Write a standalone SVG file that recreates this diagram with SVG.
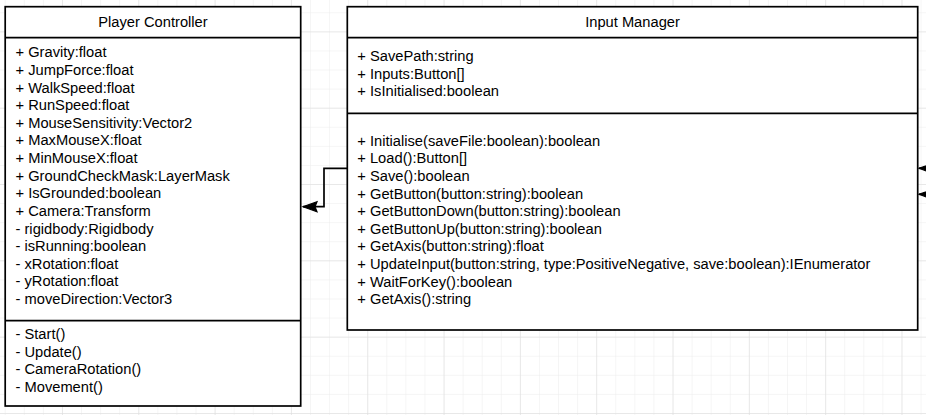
<svg xmlns="http://www.w3.org/2000/svg" width="926" height="415" viewBox="0 0 926 415">
<defs>
<pattern id="gridMinor" patternUnits="userSpaceOnUse" x="4.72" y="12.3" width="19.08" height="19.08">
<path d="M0 0 H19.08 M0 0 V19.08" fill="none" stroke="#ebebeb" stroke-width="1"/>
</pattern>
<pattern id="gridMajor" patternUnits="userSpaceOnUse" x="61.96" y="31.38" width="76.32" height="76.32">
<path d="M0 0 H76.32 M0 0 V76.32" fill="none" stroke="#dcdcdc" stroke-width="1"/>
</pattern>
<marker id="arrow" markerUnits="userSpaceOnUse" viewBox="-2 -7 18 14" markerWidth="18" markerHeight="14" refX="14" refY="0" orient="auto" overflow="visible">
<path d="M14 0 L0 -5 L2 0 L0 5 Z" fill="#000" stroke="#000" stroke-width="1.2" stroke-linejoin="miter"/>
</marker>
</defs>
<style>
.box{fill:#fff;stroke:#000;stroke-width:1.7}
.div{stroke:#000;stroke-width:1.7;fill:none}
.t{font-family:"Liberation Sans",Arial,Helvetica,sans-serif;font-size:14.7px;fill:#000}
.h{text-anchor:middle}
.conn{fill:none;stroke:#000;stroke-width:1.7}
</style>
<rect width="926" height="415" fill="#fff"/>
<rect width="926" height="415" fill="url(#gridMinor)"/>
<rect width="926" height="415" fill="url(#gridMajor)"/>

<g id="player-controller">
<rect class="box" x="5.2" y="6.7" width="295.5" height="399.3"/>
<path class="div" d="M5.2 37.7 H300.7 M5.2 320.7 H300.7"/>
<text class="t h" x="153" y="26.7">Player Controller</text>
<text class="t" x="15.5" y="57.3">+ Gravity:float</text>
<text class="t" x="15.5" y="74.92">+ JumpForce:float</text>
<text class="t" x="15.5" y="92.54">+ WalkSpeed:float</text>
<text class="t" x="15.5" y="110.16">+ RunSpeed:float</text>
<text class="t" x="15.5" y="127.78">+ MouseSensitivity:Vector2</text>
<text class="t" x="15.5" y="145.4">+ MaxMouseX:float</text>
<text class="t" x="15.5" y="163.02">+ MinMouseX:float</text>
<text class="t" x="15.5" y="180.64">+ GroundCheckMask:LayerMask</text>
<text class="t" x="15.5" y="198.26">+ IsGrounded:boolean</text>
<text class="t" x="15.5" y="215.88">+ Camera:Transform</text>
<text class="t" x="15.5" y="233.5">- rigidbody:Rigidbody</text>
<text class="t" x="15.5" y="251.12">- isRunning:boolean</text>
<text class="t" x="15.5" y="268.74">- xRotation:float</text>
<text class="t" x="15.5" y="286.36">- yRotation:float</text>
<text class="t" x="15.5" y="303.98">- moveDirection:Vector3</text>
<text class="t" x="15.5" y="339">- Start()</text>
<text class="t" x="15.5" y="356.62">- Update()</text>
<text class="t" x="15.5" y="374.24">- CameraRotation()</text>
<text class="t" x="15.5" y="391.86">- Movement()</text>
</g>

<g id="input-manager">
<rect class="box" x="347.3" y="6.7" width="570.4" height="323.3"/>
<path class="div" d="M347.3 37.7 H917.7 M347.3 113.3 H917.7"/>
<text class="t h" x="632.5" y="26.7">Input Manager</text>
<text class="t" x="357.3" y="61">+ SavePath:string</text>
<text class="t" x="357.3" y="78.62">+ Inputs:Button[]</text>
<text class="t" x="357.3" y="96.24">+ IsInitialised:boolean</text>
<text class="t" x="357.3" y="145.7">+ Initialise(saveFile:boolean):boolean</text>
<text class="t" x="357.3" y="163.32">+ Load():Button[]</text>
<text class="t" x="357.3" y="180.94">+ Save():boolean</text>
<text class="t" x="357.3" y="198.56">+ GetButton(button:string):boolean</text>
<text class="t" x="357.3" y="216.18">+ GetButtonDown(button:string):boolean</text>
<text class="t" x="357.3" y="233.8">+ GetButtonUp(button:string):boolean</text>
<text class="t" x="357.3" y="251.42">+ GetAxis(button:string):float</text>
<text class="t" x="357.3" y="269.04">+ UpdateInput(button:string, type:PositiveNegative, save:boolean):IEnumerator</text>
<text class="t" x="357.3" y="286.66">+ WaitForKey():boolean</text>
<text class="t" x="357.3" y="304.28">+ GetAxis():string</text>
</g>

<g id="connectors">
<path class="conn" d="M347.3 168.3 H324 V206.7 H303" marker-end="url(#arrow)"/>
<path class="conn" d="M945 168.3 H919" marker-end="url(#arrow)"/>
<path class="conn" d="M945 194.3 H919" marker-end="url(#arrow)"/>
</g>
</svg>
